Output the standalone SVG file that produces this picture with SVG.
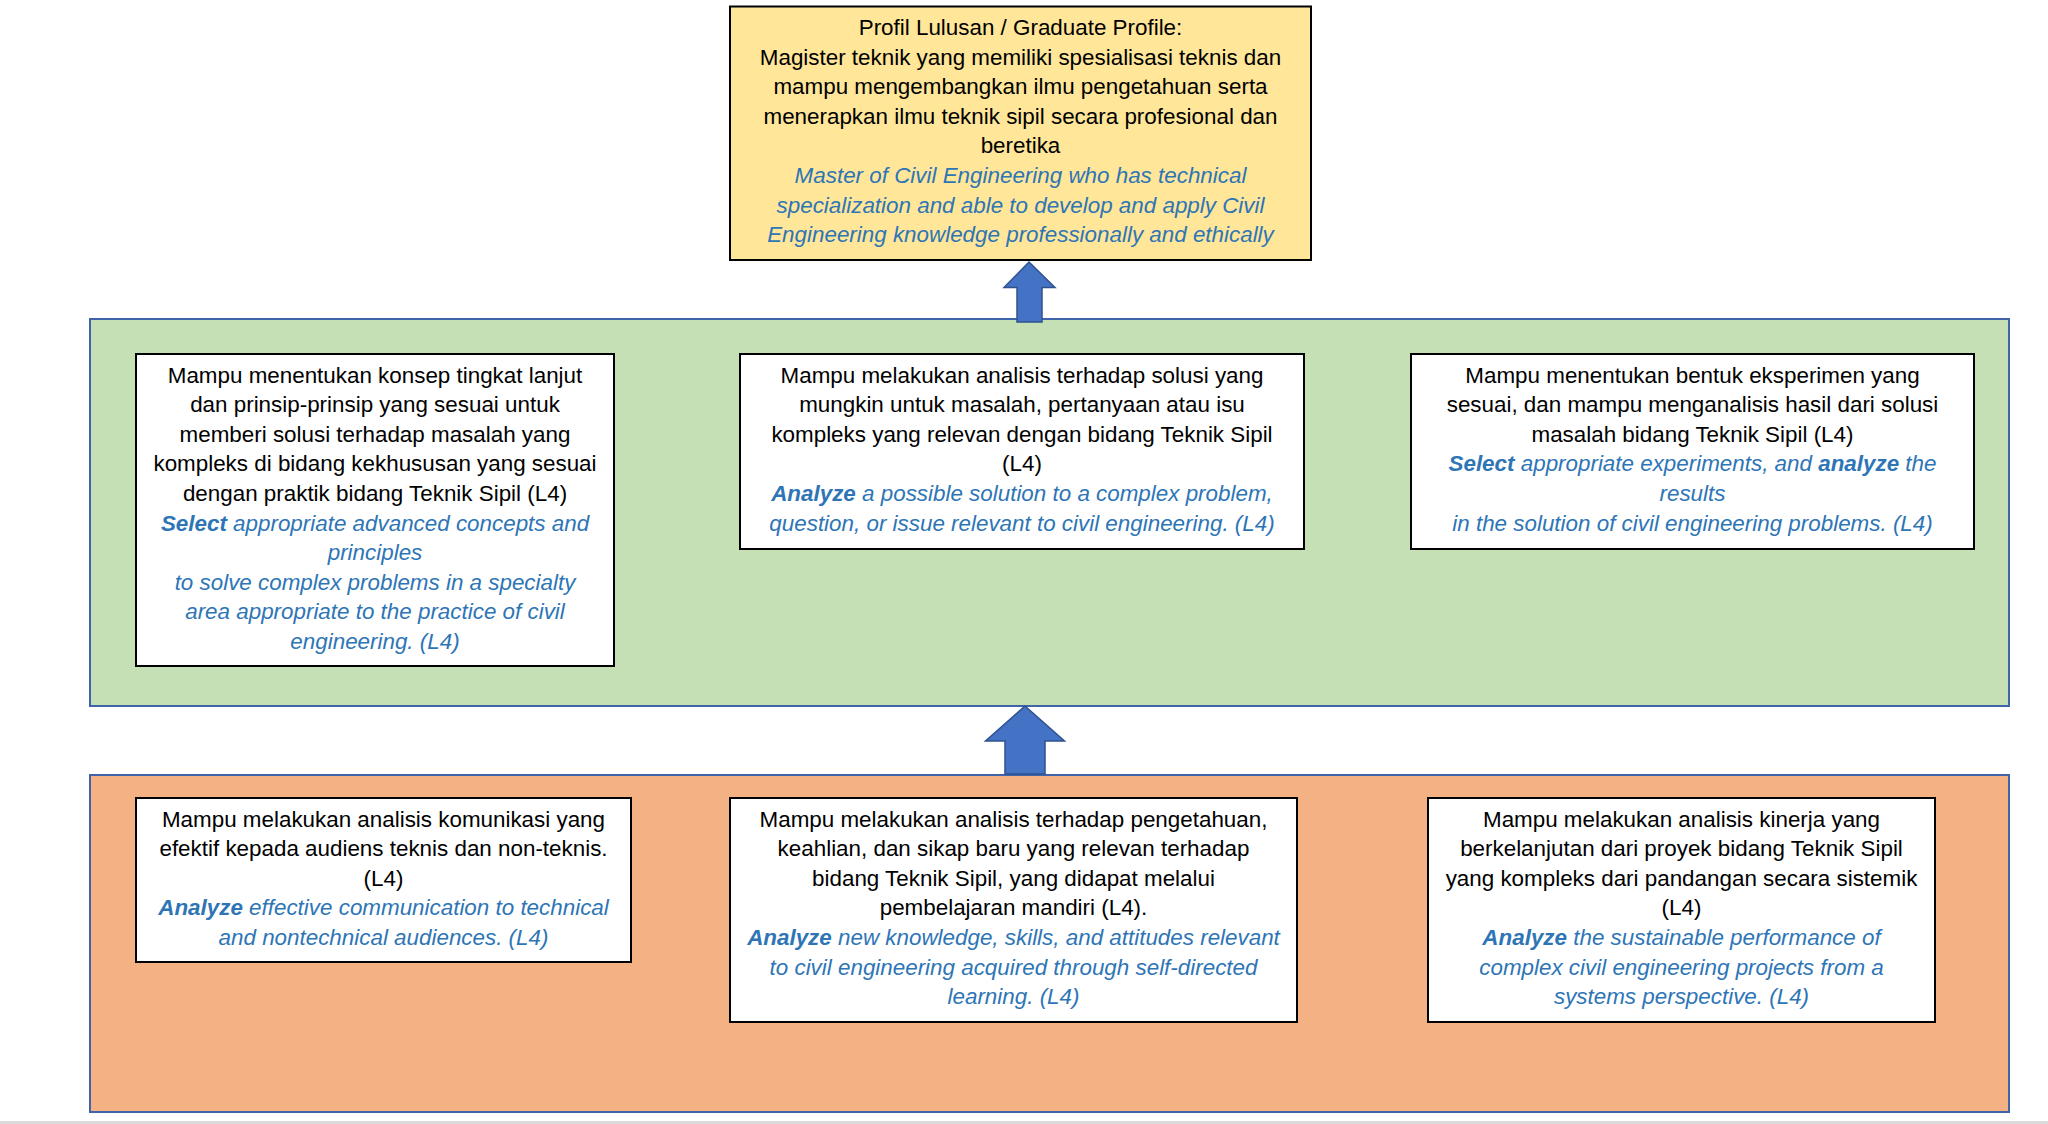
<svg xmlns="http://www.w3.org/2000/svg" width="2048" height="1124" viewBox="0 0 2048 1124">
<style>
.panel{stroke:#3F64A9;stroke-width:2}
.box{fill:#FFFFFF;stroke:#000000;stroke-width:2}
.t{font-family:"Liberation Sans",Arial,sans-serif;font-size:22.4px;fill:#000000;text-anchor:middle}
.e{font-family:"Liberation Sans",Arial,sans-serif;font-size:22.4px;fill:#2E75B6;font-style:italic;text-anchor:middle}
.b{font-weight:bold}
.arrow{fill:#4472C4;stroke:#2F528F;stroke-width:1.5}
</style>
<rect x="0" y="0" width="2048" height="1124" fill="#FFFFFF"/>
<rect x="0" y="1121" width="2048" height="3" fill="#DADADA"/>

<g id="panel-green">
<rect class="panel" x="90" y="319" width="1919" height="387" fill="#C5E0B4"/>
</g>
<g id="panel-orange">
<rect class="panel" x="90" y="775" width="1919" height="337" fill="#F4B183"/>
</g>

<g id="connectors">
<polygon class="arrow" points="1029,262 1055,287.5 1042,287.5 1042,322 1017,322 1017,287.5 1004,287.5"/>
<polygon class="arrow" points="1025,706 1064.5,741 1045,741 1045,774 1005,774 1005,741 985.5,741"/>
</g>

<g id="graduate-profile">
<rect x="730" y="6.5" width="581" height="253.5" fill="#FFE699" stroke="#000000" stroke-width="2"/>
<text class="t"><tspan x="1020.5" y="35">Profil Lulusan / Graduate Profile:</tspan><tspan x="1020.5" y="64.6">Magister teknik yang memiliki spesialisasi teknis dan</tspan><tspan x="1020.5" y="94.2">mampu mengembangkan ilmu pengetahuan serta</tspan><tspan x="1020.5" y="123.8">menerapkan ilmu teknik sipil secara profesional dan</tspan><tspan x="1020.5" y="153.4">beretika</tspan></text>
<text class="e"><tspan x="1020.5" y="183">Master of Civil Engineering who has technical</tspan><tspan x="1020.5" y="212.6">specialization and able to develop and apply Civil</tspan><tspan x="1020.5" y="242.2">Engineering knowledge professionally and ethically</tspan></text>
</g>

<g id="cpl-1">
<rect class="box" x="136" y="354" width="478" height="312"/>
<text class="t"><tspan x="375" y="382.5">Mampu menentukan konsep tingkat lanjut</tspan><tspan x="375" y="412.1">dan prinsip-prinsip yang sesuai untuk</tspan><tspan x="375" y="441.7">memberi solusi terhadap masalah yang</tspan><tspan x="375" y="471.3">kompleks di bidang kekhususan yang sesuai</tspan><tspan x="375" y="500.9">dengan praktik bidang Teknik Sipil (L4)</tspan></text>
<text class="e"><tspan x="375" y="530.5"><tspan class="b">Select</tspan> appropriate advanced concepts and</tspan><tspan x="375" y="560.1">principles</tspan><tspan x="375" y="589.7">to solve complex problems in a specialty</tspan><tspan x="375" y="619.3">area appropriate to the practice of civil</tspan><tspan x="375" y="648.9">engineering. (L4)</tspan></text>
</g>

<g id="cpl-2">
<rect class="box" x="740" y="354" width="564" height="195"/>
<text class="t"><tspan x="1022" y="382.5">Mampu melakukan analisis terhadap solusi yang</tspan><tspan x="1022" y="412.1">mungkin untuk masalah, pertanyaan atau isu</tspan><tspan x="1022" y="441.7">kompleks yang relevan dengan bidang Teknik Sipil</tspan><tspan x="1022" y="471.3">(L4)</tspan></text>
<text class="e"><tspan x="1022" y="500.9"><tspan class="b">Analyze</tspan> a possible solution to a complex problem,</tspan><tspan x="1022" y="530.5">question, or issue relevant to civil engineering. (L4)</tspan></text>
</g>

<g id="cpl-3">
<rect class="box" x="1411" y="354" width="563" height="195"/>
<text class="t"><tspan x="1692.5" y="382.5">Mampu menentukan bentuk eksperimen yang</tspan><tspan x="1692.5" y="412.1">sesuai, dan mampu menganalisis hasil dari solusi</tspan><tspan x="1692.5" y="441.7">masalah bidang Teknik Sipil (L4)</tspan></text>
<text class="e"><tspan x="1692.5" y="471.3"><tspan class="b">Select</tspan> appropriate experiments, and <tspan class="b">analyze</tspan> the</tspan><tspan x="1692.5" y="500.9">results</tspan><tspan x="1692.5" y="530.5">in the solution of civil engineering problems. (L4)</tspan></text>
</g>

<g id="cpl-4">
<rect class="box" x="136" y="798" width="495" height="164"/>
<text class="t"><tspan x="383.5" y="826.5">Mampu melakukan analisis komunikasi yang</tspan><tspan x="383.5" y="856.1">efektif kepada audiens teknis dan non-teknis.</tspan><tspan x="383.5" y="885.7">(L4)</tspan></text>
<text class="e"><tspan x="383.5" y="915.3"><tspan class="b">Analyze</tspan> effective communication to technical</tspan><tspan x="383.5" y="944.9">and nontechnical audiences. (L4)</tspan></text>
</g>

<g id="cpl-5">
<rect class="box" x="730" y="798" width="567" height="224"/>
<text class="t"><tspan x="1013.5" y="826.5">Mampu melakukan analisis terhadap pengetahuan,</tspan><tspan x="1013.5" y="856.1">keahlian, dan sikap baru yang relevan terhadap</tspan><tspan x="1013.5" y="885.7">bidang Teknik Sipil, yang didapat melalui</tspan><tspan x="1013.5" y="915.3">pembelajaran mandiri (L4).</tspan></text>
<text class="e"><tspan x="1013.5" y="944.9"><tspan class="b">Analyze</tspan> new knowledge, skills, and attitudes relevant</tspan><tspan x="1013.5" y="974.5">to civil engineering acquired through self-directed</tspan><tspan x="1013.5" y="1004.1">learning. (L4)</tspan></text>
</g>

<g id="cpl-6">
<rect class="box" x="1428" y="798" width="507" height="224"/>
<text class="t"><tspan x="1681.5" y="826.5">Mampu melakukan analisis kinerja yang</tspan><tspan x="1681.5" y="856.1">berkelanjutan dari proyek bidang Teknik Sipil</tspan><tspan x="1681.5" y="885.7">yang kompleks dari pandangan secara sistemik</tspan><tspan x="1681.5" y="915.3">(L4)</tspan></text>
<text class="e"><tspan x="1681.5" y="944.9"><tspan class="b">Analyze</tspan> the sustainable performance of</tspan><tspan x="1681.5" y="974.5">complex civil engineering projects from a</tspan><tspan x="1681.5" y="1004.1">systems perspective. (L4)</tspan></text>
</g>
</svg>
